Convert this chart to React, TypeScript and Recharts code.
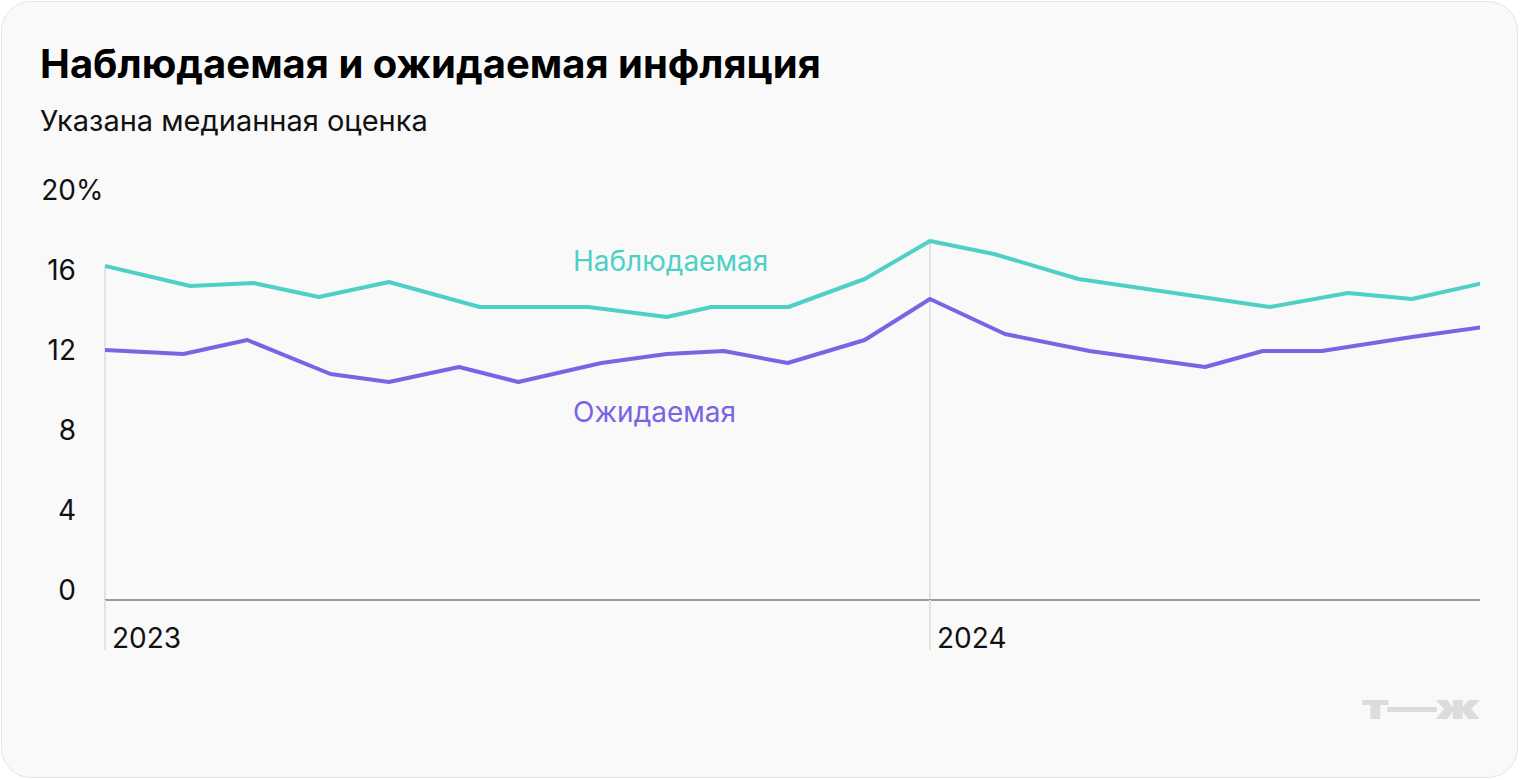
import React from 'react';
import { LineChart, Line, XAxis, YAxis, ReferenceLine } from 'recharts';

// x = months since Jan 2023 (12 = Jan 2024)
const observed = [
  { m: 0, v: 16.7 }, { m: 1.24, v: 15.7 }, { m: 2.16, v: 15.85 }, { m: 3.11, v: 15.15 },
  { m: 4.13, v: 15.9 }, { m: 5.45, v: 14.65 }, { m: 7.03, v: 14.65 }, { m: 8.17, v: 14.15 },
  { m: 8.82, v: 14.65 }, { m: 9.94, v: 14.65 }, { m: 11.05, v: 16.05 }, { m: 12, v: 17.95 },
  { m: 12.93, v: 17.3 }, { m: 14.16, v: 16.05 }, { m: 16.94, v: 14.65 }, { m: 18.08, v: 15.35 },
  { m: 19.01, v: 15.05 }, { m: 20.05, v: 15.85 },
];

const expected = [
  { m: 0, v: 12.5 }, { m: 1.14, v: 12.3 }, { m: 2.07, v: 13.0 }, { m: 3.28, v: 11.3 },
  { m: 4.13, v: 10.9 }, { m: 5.15, v: 11.65 }, { m: 6.01, v: 10.9 }, { m: 7.22, v: 11.85 },
  { m: 8.17, v: 12.3 }, { m: 9.0, v: 12.45 }, { m: 9.93, v: 11.85 }, { m: 11.05, v: 13.0 },
  { m: 12, v: 15.05 }, { m: 13.09, v: 13.3 }, { m: 14.32, v: 12.45 }, { m: 16.0, v: 11.65 },
  { m: 16.84, v: 12.45 }, { m: 17.7, v: 12.45 }, { m: 19.01, v: 13.15 }, { m: 20.05, v: 13.65 },
];

const yTicks = [0, 4, 8, 12, 16, 20];
const yearTicks = [0, 12];
const yearLabels = ['2023', '2024'];

const TEAL = '#4fd0c6';
const PURPLE = '#7a64e4';
const FONT = 'Inter, "Noto Sans", sans-serif';

const YTick = ({ y, payload }: any) => (
  <g>
    <text x={76} y={y} textAnchor="end" fontSize={28} fill="#111" fontFamily={FONT}>{payload.value}</text>
    {payload.value === 20 && (
      <text x={76} y={y} textAnchor="start" fontSize={28} fill="#111" fontFamily={FONT}>%</text>
    )}
  </g>
);

const XTick = ({ x, y, payload }: any) => (
  <text x={x + 7} y={y - 4} textAnchor="start" fontSize={28} fill="#111" fontFamily={FONT}>
    {yearLabels[yearTicks.indexOf(payload.value)]}
  </text>
);

export default function App() {
  const dropLines = yearTicks.map((t) => observed.find((d) => d.m === t)!);
  return (
    <div style={{ position: 'absolute', left: 0, top: 0, width: 1520, height: 780, fontFamily: FONT }}>
      <div style={{ position: 'absolute', left: 1, top: 1, width: 1517, height: 777, boxSizing: 'border-box', border: '1.5px solid #e4e4e4', borderRadius: 30, background: '#f9f9f9' }} />
      <div style={{ position: 'absolute', left: 40, top: 44, fontSize: 40, lineHeight: 1, fontWeight: 700, color: '#000', whiteSpace: 'nowrap' }}>
        Наблюдаемая и ожидаемая инфляция
      </div>
      <div style={{ position: 'absolute', left: 40, top: 106, fontSize: 29, lineHeight: 1, color: '#111', whiteSpace: 'nowrap' }}>
        Указана медианная оценка
      </div>
      <div style={{ position: 'absolute', left: 0, top: 0 }}>
        <LineChart width={1520} height={780} margin={{ top: 200, right: 40, bottom: 120, left: 40 }}>
          <XAxis
            dataKey="m"
            type="number"
            domain={[0, 20]}
            ticks={yearTicks}
            tick={<XTick />}
            tickSize={50}
            tickLine={{ stroke: '#e2e2e2', strokeWidth: 2 }}
            axisLine={{ stroke: '#9a9a9a', strokeWidth: 2 }}
            height={60}
            allowDataOverflow
          />
          <YAxis
            type="number"
            domain={[0, 20]}
            ticks={yTicks}
            tick={<YTick />}
            axisLine={false}
            tickLine={false}
            width={65}
          />
          {dropLines.map((d) => (
            <ReferenceLine key={d.m} segment={[{ x: d.m, y: d.v }, { x: d.m, y: 0 }]} stroke="#e2e2e2" strokeWidth={2} />
          ))}
          <Line data={observed} dataKey="v" type="linear" stroke={TEAL} strokeWidth={4} dot={false} isAnimationActive={false} strokeLinejoin="round" />
          <Line data={expected} dataKey="v" type="linear" stroke={PURPLE} strokeWidth={4} dot={false} isAnimationActive={false} strokeLinejoin="round" />
        </LineChart>
      </div>
      <div style={{ position: 'absolute', left: 573, top: 244, fontSize: 28, color: TEAL, whiteSpace: 'nowrap' }}>Наблюдаемая</div>
      <div style={{ position: 'absolute', left: 573, top: 395, fontSize: 28, color: PURPLE, whiteSpace: 'nowrap' }}>Ожидаемая</div>
      <div style={{ position: 'absolute', right: 41, top: 686, fontSize: 34, fontWeight: 900, color: '#dcdcdc', whiteSpace: 'nowrap', letterSpacing: -1, transform: 'scaleX(1.45)', transformOrigin: 'right center' }}>т—ж</div>
    </div>
  );
}
